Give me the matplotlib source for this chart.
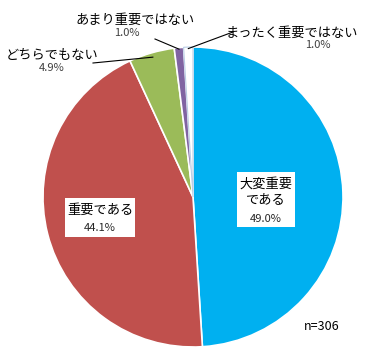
import numpy as np
import matplotlib
matplotlib.use('Agg')
import matplotlib.pyplot as plt
from matplotlib.patches import Rectangle

plt.rcParams['font.family'] = ['Noto Sans CJK JP', 'DejaVu Sans']

# data
labels = ['大変重要\nである', '重要である', 'どちらでもない', 'あまり重要ではない', 'まったく重要ではない']
values = [49.0, 44.1, 4.9, 1.0, 1.0]
colors = ['#00B0F0', '#C0504D', '#9BBB59', '#8064A2', '#FFFFFF']
n_text = 'n=306'

W, H = 365, 361
fig = plt.figure(figsize=[W / 100, H / 100], dpi=100)
ax = fig.add_axes([0, 0, 1, 1])

cx, cy, r = 193, H - 197, 150
wedges, _ = ax.pie(values, colors=colors, startangle=90, counterclock=False,
                   center=(cx, cy), radius=r, frame=True,
                   wedgeprops=dict(edgecolor='white', linewidth=1.2))
wedges[4].set_edgecolor('#B9CDE5')
wedges[4].set_linewidth(0.8)
ax.set_xlim(0, W)
ax.set_ylim(0, H)
ax.set_aspect('equal')
ax.axis('off')

# inside labels on white boxes
ax.add_patch(Rectangle((237, H - 227), 58, 55, facecolor='white', edgecolor='none', zorder=3))
ax.text(266, H - 192, labels[0], ha='center', va='center', fontsize=9.5,
        linespacing=1.3, zorder=4)
ax.text(266, H - 219, '%.1f%%' % values[0], ha='center', va='center', fontsize=8,
        color='#262626', zorder=4)
ax.add_patch(Rectangle((65, H - 237), 70, 39, facecolor='white', edgecolor='none', zorder=3))
ax.text(100, H - 210, labels[1], ha='center', va='center', fontsize=9.5, zorder=4)
ax.text(100, H - 228, '%.1f%%' % values[1], ha='center', va='center', fontsize=8,
        color='#262626', zorder=4)

# outside labels with leader lines
def edge_point(i, frac=1.0):
    start = 90 - sum(values[:i]) * 3.6
    mid = start - values[i] * 1.8
    a = np.deg2rad(mid)
    return cx + r * frac * np.cos(a), cy + r * frac * np.sin(a)

outside = [
    (2, (52, 55), (52, 68), (93, 63)),
    (3, (135, 20), (127, 33), (155, 39)),
    (4, (292, 33), (318, 45), (233, 32)),
]
for i, lab_pos, pct_pos, line_end in outside:
    ax.text(lab_pos[0], H - lab_pos[1], labels[i], ha='center', va='center', fontsize=9.5)
    ax.text(pct_pos[0], H - pct_pos[1], '%.1f%%' % values[i], ha='center', va='center',
            fontsize=8, color='#404040')
    px, py = edge_point(i, 0.99 if i != 2 else 0.97)
    ax.plot([line_end[0], px], [H - line_end[1], py], color='black', linewidth=0.8)

ax.text(322, H - 327, n_text, ha='center', va='center', fontsize=9)

fig.savefig('out.png', dpi=100)
